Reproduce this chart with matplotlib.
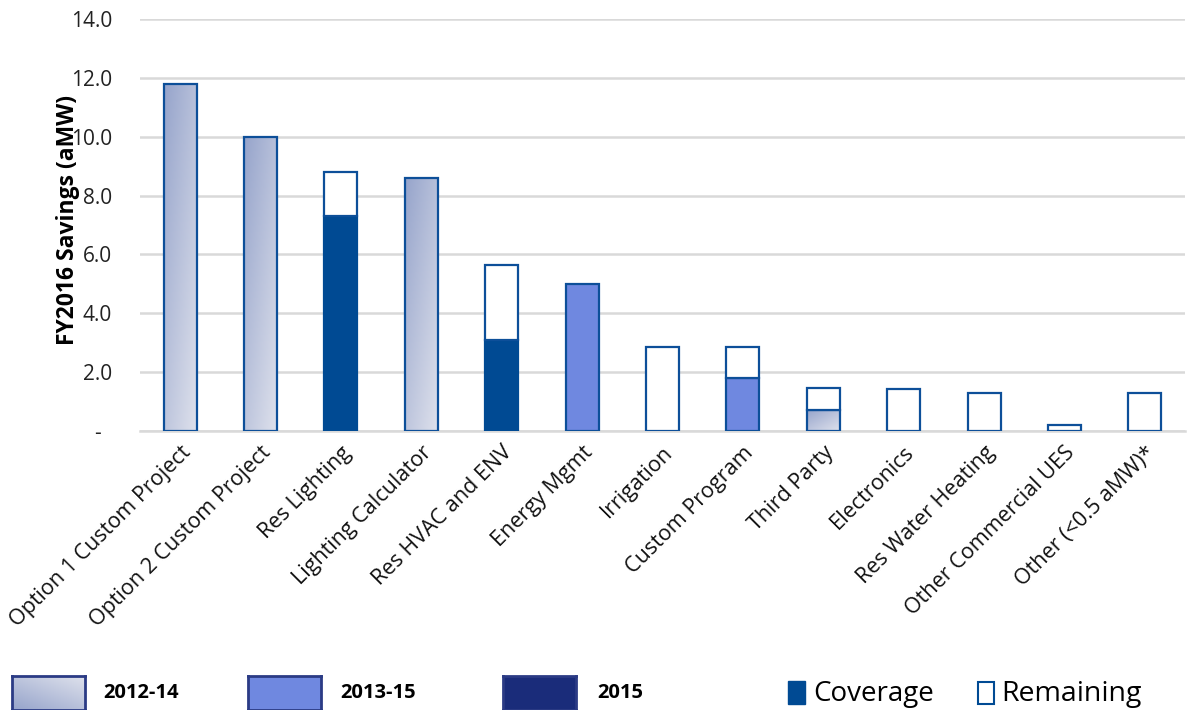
import matplotlib.pyplot as plt
import numpy as np
from matplotlib.patches import Rectangle
from matplotlib.colors import LinearSegmentedColormap

plt.rcParams['font.family'] = ['Open Sans', 'DejaVu Sans']

# FY2016 savings by measure (aMW)
categories = ['Option 1 Custom Project', 'Option 2 Custom Project', 'Res Lighting',
              'Lighting Calculator', 'Res HVAC and ENV', 'Energy Mgmt', 'Irrigation',
              'Custom Program', 'Third Party', 'Electronics', 'Res Water Heating',
              'Other Commercial UES', 'Other (<0.5 aMW)*']
total = [11.8, 10.0, 8.8, 8.6, 5.65, 5.0, 2.85, 2.85, 1.45, 1.43, 1.3, 0.2, 1.3]
covered = [11.8, 10.0, 7.3, 8.6, 3.1, 5.0, 0.0, 1.8, 0.72, 0.0, 0.0, 0.0, 0.0]
# study period that the covered part belongs to
period = ['2012-14', '2012-14', '2015', '2012-14', '2015', '2013-15', None,
          '2013-15', '2012-14', None, None, None, None]
yticks = [0, 2, 4, 6, 8, 10, 12, 14]
ytick_labels = ['-  ', '2.0', '4.0', '6.0', '8.0', '10.0', '12.0', '14.0']

EDGE = '#0D4F99'
SOLID = {'2013-15': '#6F88E0', '2015': '#004A93'}
grad = LinearSegmentedColormap.from_list('g', ['#96A4CB', '#DEE1EC'])


def gradient_img():
    nx, ny = np.meshgrid(np.linspace(0, 1, 40), np.linspace(0, 1, 200))
    return 0.45 * nx + 0.55 * ny  # dark at top-left, light at bottom-right


fig = plt.figure(figsize=(11.99, 7.1), dpi=100)
ax = fig.add_axes([140 / 1199, 279 / 710, 1045 / 1199, 412 / 710])

w = 0.41
x = np.arange(len(categories))
for i in x:
    x0 = i - w / 2
    c = covered[i]
    p = period[i]
    if c > 0:
        if p == '2012-14':
            r = Rectangle((x0, 0), w, c, facecolor='none', edgecolor=EDGE, lw=1.6, zorder=3)
            ax.add_patch(r)
            im = ax.imshow(gradient_img(), cmap=grad, extent=(x0, x0 + w, 0, c),
                           origin='upper', aspect='auto', zorder=2)
            im.set_clip_path(r)
        else:
            ax.bar(i, c, w, color=SOLID[p], edgecolor=EDGE if p == '2013-15' else SOLID[p],
                   lw=1.6, zorder=3)
    rem = total[i] - c
    if rem > 0.01:
        ax.bar(i, rem, w, bottom=c, color='white', edgecolor=EDGE, lw=1.6, zorder=3)

ax.set_xlim(-0.5, len(categories) - 0.5)
ax.set_ylim(0, 14)
ax.set_yticks(yticks)
ax.set_yticklabels(ytick_labels, fontsize=15, color='#222222')
ax.set_xticks(x)
ax.set_xticklabels(categories, rotation=45, ha='right', rotation_mode='anchor',
                   fontsize=15.5, color='#111111')
ax.tick_params(axis='y', length=0, pad=20)
ax.tick_params(axis='x', length=0, pad=8)
ax.grid(axis='y', color='#D9D9D9', lw=1.8, zorder=0)
ax.set_axisbelow(True)
for s in ['top', 'right', 'left']:
    ax.spines[s].set_visible(False)
ax.spines['bottom'].set_color('#D9D9D9')
ax.spines['bottom'].set_linewidth(1.8)
ax.set_ylabel('FY2016 Savings (aMW)', fontsize=16.5, fontweight='bold')
ax.yaxis.set_label_coords(-0.057, 0.512)


# legend row along the bottom edge
def swatch(px, kind):
    sa = fig.add_axes([px / 1199, 0, 73 / 1199, 34 / 710])
    sa.set_xticks([])
    sa.set_yticks([])
    sa.set_xlim(0, 1)
    sa.set_ylim(0, 1)
    if kind == 'grad':
        sa.imshow(gradient_img().T[:, ::-1].T, cmap=grad, extent=(0, 1, 0, 1), aspect='auto')
    else:
        sa.set_facecolor(kind)
    for s in sa.spines.values():
        s.set_color('#2B3B85')
        s.set_linewidth(2)


swatch(12, 'grad')
swatch(248, '#6F88E0')
swatch(503, '#1A2C7A')
for px, txt in [(103, '2012-14'), (340, '2013-15'), (597, '2015')]:
    fig.text(px / 1199, 17 / 710, txt, fontsize=14.5, fontweight='bold', va='center')

fig.patches.append(Rectangle((788 / 1199, 6 / 710), 17 / 1199, 23 / 710, transform=fig.transFigure,
                             facecolor='#004A93', edgecolor='#004A93', lw=1))
fig.patches.append(Rectangle((978 / 1199, 6 / 710), 16 / 1199, 22 / 710, transform=fig.transFigure,
                             facecolor='white', edgecolor='#004A93', lw=1.5))
fig.text(813 / 1199, 16 / 710, 'Coverage', fontsize=20, va='center')
fig.text(1001 / 1199, 16 / 710, 'Remaining', fontsize=20.5, va='center')

fig.savefig('out.png', dpi=100)
